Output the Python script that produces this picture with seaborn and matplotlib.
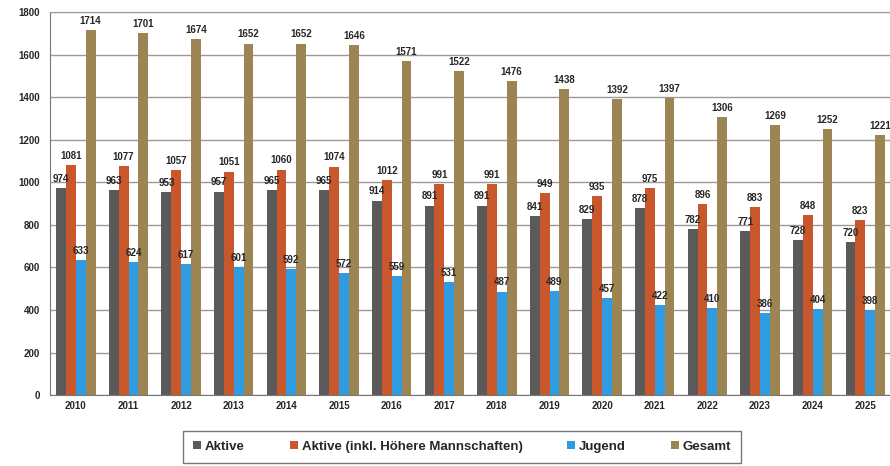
import pandas as pd
import numpy as np
import matplotlib.pyplot as plt
import seaborn as sns

years = [str(y) for y in range(2010, 2026)]
aktive = [974, 963, 953, 957, 965, 965, 914, 891, 891, 841, 829, 878, 782, 771, 728, 720]
aktive_inkl = [1081, 1077, 1057, 1051, 1060, 1074, 1012, 991, 991, 949, 935, 975, 896, 883, 848, 823]
jugend = [633, 624, 617, 601, 592, 572, 559, 531, 487, 489, 457, 422, 410, 386, 404, 398]
gesamt = [1714, 1701, 1674, 1652, 1652, 1646, 1571, 1522, 1476, 1438, 1392, 1397, 1306, 1269, 1252, 1221]

series = ['Aktive', 'Aktive (inkl. Höhere Mannschaften)', 'Jugend', 'Gesamt']
colors = ['#5a5a5a', '#c8582b', '#2f9be0', '#9c8453']

df = pd.concat([
    pd.DataFrame({'Jahr': years, 'Serie': name, 'Wert': vals})
    for name, vals in zip(series, [aktive, aktive_inkl, jugend, gesamt])
])

sns.set_style('white')
plt.rcParams['font.family'] = ['Liberation Sans', 'DejaVu Sans']

fig = plt.figure(figsize=(8.9, 4.66), dpi=100)
ax = fig.add_axes([0.0557, 0.152, 0.9443, 0.822])

sns.barplot(data=df, x='Jahr', y='Wert', hue='Serie', hue_order=series,
            palette=colors, width=0.75, saturation=1, linewidth=0, ax=ax, legend=True)

for cont in ax.containers:
    ax.bar_label(cont, fmt='%d', padding=3, fontsize=7, fontweight='bold')

ax.set_ylim(0, 1800)
ax.set_xlim(-0.5, 15.47)
ax.set_yticks(range(0, 1801, 200))
ax.yaxis.grid(True, color='#9a9a9a', linewidth=1)
ax.set_axisbelow(True)
ax.set_xlabel('')
ax.set_ylabel('')
ax.tick_params(axis='both', labelsize=7, length=0, pad=4)
for lab in ax.get_xticklabels() + ax.get_yticklabels():
    lab.set_fontweight('bold')

# little ticks between the year groups
ax.set_xticks(np.arange(0.5, 15.5, 1), minor=True)
ax.tick_params(axis='x', which='minor', length=3, color='#777777')
ax.tick_params(axis='y', which='major', length=3, color='#777777')

ax.spines['right'].set_visible(False)
ax.spines['left'].set_color('#777777')
ax.spines['bottom'].set_color('#777777')
ax.spines['top'].set_color('#9a9a9a')

ax.legend(loc='center', bbox_to_anchor=(0.491, -0.135), ncol=4, frameon=True,
          fancybox=False, edgecolor='#555555',
          prop={'weight': 'bold', 'size': 9.5},
          handlelength=0.6, handleheight=0.6, handletextpad=0.3, columnspacing=3.4,
          borderpad=0.75, borderaxespad=0)

fig.savefig('out.png', dpi=100)
